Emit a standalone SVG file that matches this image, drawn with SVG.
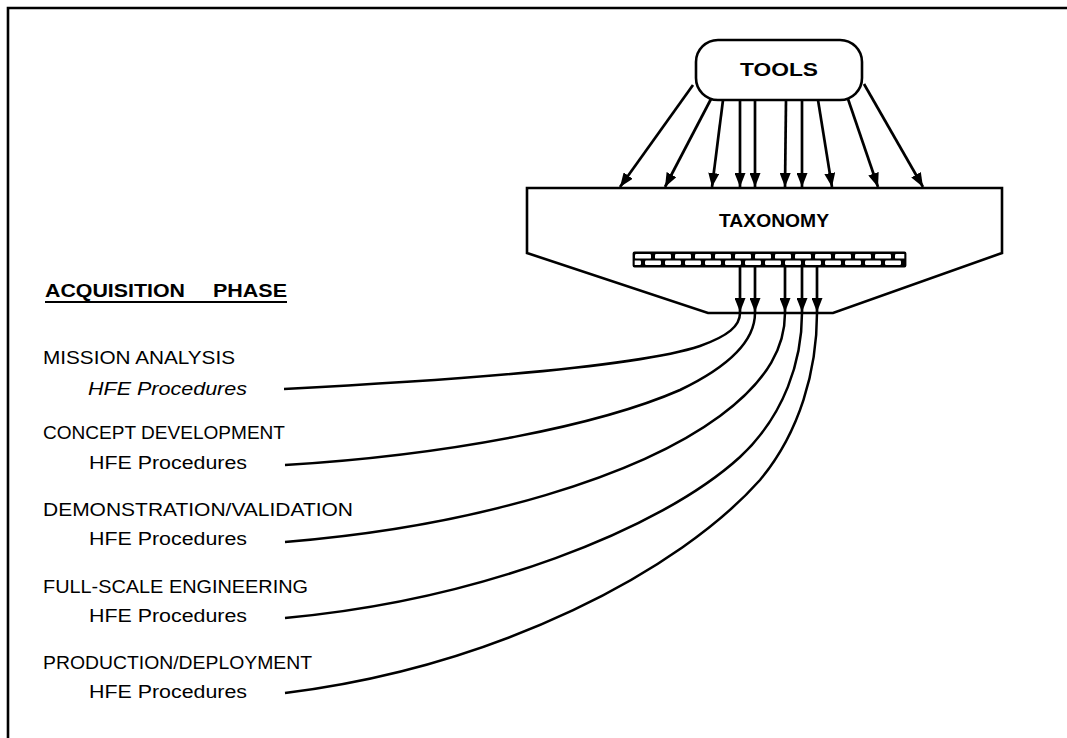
<svg xmlns="http://www.w3.org/2000/svg" width="1067" height="738" viewBox="0 0 1067 738">
<style>
.t{font-family:"Liberation Sans",Arial,sans-serif;fill:#000}
.b{font-weight:bold}
.ln{fill:none;stroke:#000;stroke-width:2.6}
.cv{fill:none;stroke:#000;stroke-width:2.5}
.ar{fill:none;stroke:#000;stroke-width:2.7;marker-end:url(#ah)}
</style>
<defs>
<marker id="ah" viewBox="0 0 14 11" refX="14" refY="5.5" markerWidth="14" markerHeight="11" markerUnits="userSpaceOnUse" orient="auto">
<path d="M0,0 L14,5.5 L0,11 Z" fill="#000"/>
</marker>
<pattern id="brick" patternUnits="userSpaceOnUse" x="633" y="252" width="20" height="15">
<rect x="2" y="2" width="16" height="4.6" rx="1.2" fill="#fff"/>
<rect x="-8" y="8.6" width="16" height="4.4" rx="1.2" fill="#fff"/>
<rect x="12" y="8.6" width="16" height="4.4" rx="1.2" fill="#fff"/>
</pattern>
</defs>
<rect width="1067" height="738" fill="#fff"/>
<g id="frame">
<path class="ln" d="M8,738 L8,8 L1067,8"/>
</g>
<g id="tools">
<rect x="696" y="40" width="166" height="60" rx="22" ry="22" fill="#fff" stroke="#000" stroke-width="2.6"/>
<text class="t b" x="779" y="76" font-size="18" text-anchor="middle" textLength="78" lengthAdjust="spacingAndGlyphs">TOOLS</text>
</g>
<g id="taxonomy">
<path d="M527,188 L1002,188 L1002,253 L833,313 L708,313 L527,253 Z" fill="#fff" stroke="#000" stroke-width="2.6" stroke-linejoin="miter"/>
<text class="t b" x="774" y="227" font-size="18" text-anchor="middle" textLength="110" lengthAdjust="spacingAndGlyphs">TAXONOMY</text>
<rect x="633" y="252" width="273" height="15" fill="#000"/>
<rect x="634.5" y="253" width="270" height="13" fill="url(#brick)"/>
<rect x="633.5" y="252.5" width="272" height="14" fill="none" stroke="#000" stroke-width="1.8" rx="1"/>
</g>
<g id="acquisition-phase">
<text class="t b" x="45" y="297" font-size="18" textLength="140" lengthAdjust="spacingAndGlyphs">ACQUISITION</text>
<text class="t b" x="213" y="297" font-size="18" textLength="74" lengthAdjust="spacingAndGlyphs">PHASE</text>
<line x1="45" y1="302" x2="287" y2="302" stroke="#000" stroke-width="2"/>
</g>
<g id="mission-analysis">
<text class="t" x="43" y="364" font-size="17.5" textLength="192" lengthAdjust="spacingAndGlyphs">MISSION ANALYSIS</text>
<text class="t" x="88" y="395" font-size="17.5" font-style="italic" textLength="159" lengthAdjust="spacingAndGlyphs">HFE Procedures</text>
</g>
<g id="concept-development">
<text class="t" x="43" y="439" font-size="17.5" textLength="242" lengthAdjust="spacingAndGlyphs">CONCEPT DEVELOPMENT</text>
<text class="t" x="89" y="469" font-size="17.5" textLength="158" lengthAdjust="spacingAndGlyphs">HFE Procedures</text>
</g>
<g id="demonstration-validation">
<text class="t" x="43" y="516" font-size="17.5" textLength="310" lengthAdjust="spacingAndGlyphs">DEMONSTRATION/VALIDATION</text>
<text class="t" x="89" y="545" font-size="17.5" textLength="158" lengthAdjust="spacingAndGlyphs">HFE Procedures</text>
</g>
<g id="full-scale-engineering">
<text class="t" x="43" y="593" font-size="17.5" textLength="265" lengthAdjust="spacingAndGlyphs">FULL-SCALE ENGINEERING</text>
<text class="t" x="89" y="622" font-size="17.5" textLength="158" lengthAdjust="spacingAndGlyphs">HFE Procedures</text>
</g>
<g id="production-deployment">
<text class="t" x="43" y="669" font-size="17.5" textLength="269" lengthAdjust="spacingAndGlyphs">PRODUCTION/DEPLOYMENT</text>
<text class="t" x="89" y="698" font-size="17.5" textLength="158" lengthAdjust="spacingAndGlyphs">HFE Procedures</text>
</g>
<g id="connectors">
<line class="ar" x1="693" y1="85" x2="620" y2="187"/>
<line class="ar" x1="711" y1="99" x2="665" y2="187"/>
<line class="ar" x1="723" y1="100" x2="712" y2="187"/>
<line class="ar" x1="740" y1="100" x2="740" y2="187"/>
<line class="ar" x1="755" y1="100" x2="755" y2="187"/>
<line class="ar" x1="786" y1="100" x2="785" y2="187"/>
<line class="ar" x1="802" y1="100" x2="802" y2="187"/>
<line class="ar" x1="818" y1="100" x2="832" y2="187"/>
<line class="ar" x1="848" y1="99" x2="878" y2="187"/>
<line class="ar" x1="864" y1="84" x2="923" y2="187"/>
<line class="ar" x1="740" y1="267" x2="740" y2="312"/>
<line class="ar" x1="755" y1="267" x2="755" y2="312"/>
<line class="ar" x1="785" y1="267" x2="785" y2="312"/>
<line class="ar" x1="802" y1="267" x2="802" y2="312"/>
<line class="ar" x1="817" y1="267" x2="817" y2="312"/>
<path class="cv" d="M284,389 C460,380 640,366 700,346 C728,336 740,326 740,313"/>
<path class="cv" d="M285,465 C450,455 600,425 680,390 C730,366 755,340 755,313"/>
<path class="cv" d="M285,542 C480,526 640,475 720,416 C770,379 785,345 785,313"/>
<path class="cv" d="M285,618 C480,600 660,530 740,457 C785,415 802,360 802,313"/>
<path class="cv" d="M285,693 C500,666 680,570 760,480 C800,432 817,370 817,313"/>
</g>
</svg>
